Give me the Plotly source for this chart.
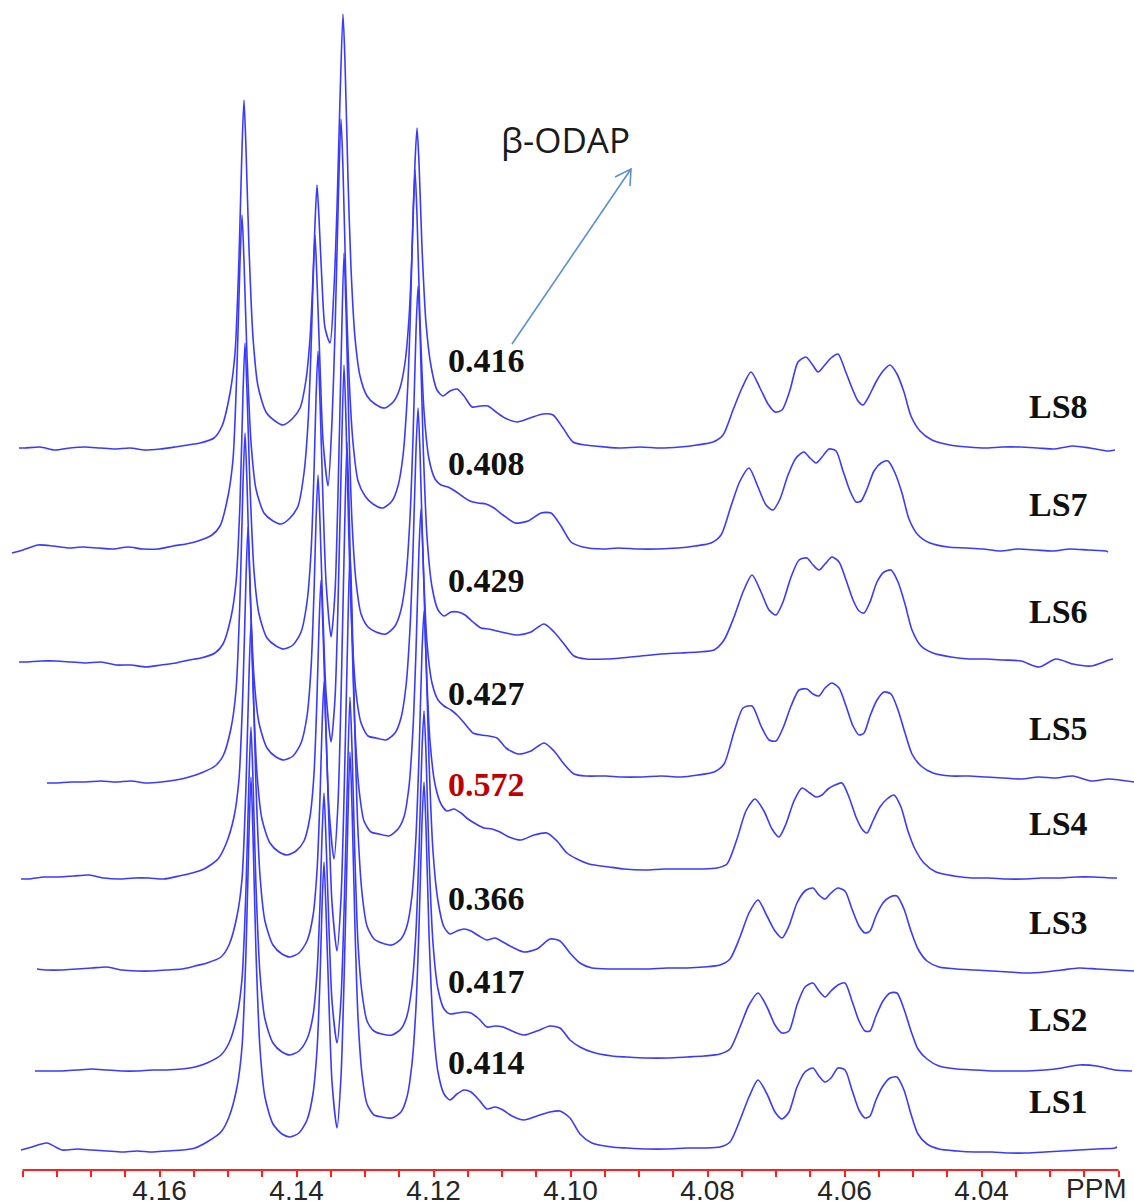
import plotly.graph_objects as go

# ---------------- data ----------------
# chemical-shift sampling points (ppm): left baseline, 4.15-4.11 multiplet, shoulder, 4.08-4.04 multiplet, right baseline
ppm_left = [4.17965, 4.17746, 4.17527, 4.17308, 4.17089, 4.16870, 4.16651, 4.16432, 4.16213, 4.15994, 4.15775, 4.15585]
ppm_peaks = [
    4.15410, 4.15206, 4.15089, 4.14972, 4.14899, 4.14841, 4.14797, 4.14768, 4.14739, 4.14695, 4.14636, 4.14564, 4.14447, 4.14315,
    4.14199, 4.14067,
    4.13950, 4.13863, 4.13804, 4.13761, 4.13731, 4.13702, 4.13673, 4.13629, 4.13585,
    4.13512,
    4.13454, 4.13410, 4.13366, 4.13323, 4.13293, 4.13250, 4.13206, 4.13147, 4.13074, 4.12972,
    4.12856, 4.12710, 4.12578,
    4.12491, 4.12418, 4.12359, 4.12315, 4.12272, 4.12242, 4.12213, 4.12169, 4.12111, 4.12038, 4.11950, 4.11863,
]
ppm_mid = [4.11761, 4.11658, 4.11556, 4.11439, 4.11323, 4.11206, 4.11089, 4.10958, 4.10783, 4.10593, 4.10403, 4.10257,
           4.10111, 4.09965, 4.09790, 4.09498, 4.09279, 4.08987, 4.08695, 4.08403, 4.08155]
ppm_right = [4.07921, 4.07775, 4.07629, 4.07498, 4.07366, 4.07235, 4.07118, 4.07016, 4.06914, 4.06797,
             4.06680, 4.06564, 4.06476, 4.06388, 4.06301, 4.06199, 4.06096, 4.05994, 4.05892, 4.05804,
             4.05731, 4.05644, 4.05542, 4.05439, 4.05337, 4.05235, 4.05133, 4.05031, 4.04899, 4.04724,
             4.04461, 4.04198, 4.03950, 4.03702, 4.03439, 4.03177, 4.02929, 4.02680, 4.02418, 4.02155]

ls_names = ["LS1", "LS2", "LS3", "LS4", "LS5", "LS6", "LS7", "LS8"]
ls_values = ["0.414", "0.417", "0.366", "0.572", "0.427", "0.429", "0.408", "0.416"]

# small per-sample chemical-shift drift (ppm) and spectrum end points
ls_shift_ppm = [-0.00102, -0.00102, -0.00102, -0.00058, -0.00015, -0.00015, 0.00029, 0.0]
ls_start_ppm = [4.18023, 4.17819, 4.17790, 4.18023, 4.17644, 4.18053, 4.18155, 4.18053]
ls_end_ppm = [4.02023, 4.01804, 4.01775, 4.02023, 4.01775, 4.02082, 4.02155, 4.02053]
ls_start_val = [2, 0, 2, 0, -5, 0, -2, 0]
ls_end_val = [5, 0, 0, 1, -4, 3, -1, -2]

# intensities (arbitrary units) per sample, segment by segment
ls1 = ([5, 9, 2, 3, 2, 1, 0, 1, 0, 1, 2, 4]
       + [10, 20, 35, 65, 105, 200, 318, 375, 318, 200, 103, 55, 28, 18,
          15, 19,
          32, 58, 102, 172, 245, 290, 242, 148, 70,
          24,
          75, 170, 295, 400, 345, 225, 135, 78, 48, 37,
          35, 34, 40,
          55, 88, 145, 225, 328, 370, 325, 218, 130, 80, 58, 52]
       + [58, 62, 60, 52, 43, 45, 42, 36, 32, 36, 40, 41, 34, 18, 9, 5, 4, 3, 3, 4, 4]
       + [5, 10, 32, 55, 72, 58, 40, 33, 40, 65, 80, 84, 76, 70, 74, 84, 82, 62, 42, 34,
          36, 52, 66, 74, 75, 62, 38, 18, 8, 3, 1, 0, 0, -1, -1, 0, 1, 2, 3, 4])
ls2 = ([0, 0, 0, 1, 2, 1, 0, 0, 1, 1, 2, 4]
       + [8, 16, 28, 55, 92, 182, 292, 344, 292, 185, 97, 52, 28, 19,
          16, 20,
          32, 55, 98, 166, 235, 278, 232, 142, 70,
          28,
          72, 158, 275, 374, 322, 212, 128, 78, 50, 40,
          37, 36, 42,
          55, 85, 140, 220, 320, 360, 318, 215, 128, 82, 62, 57]
       + [58, 59, 58, 52, 44, 45, 44, 40, 36, 40, 45, 43, 31, 24, 19, 15, 14, 13, 13, 14, 15]
       + [17, 22, 44, 66, 78, 64, 46, 38, 40, 66, 84, 88, 80, 74, 80, 86, 88, 70, 50, 40,
          40, 55, 70, 78, 78, 62, 40, 22, 12, 5, 2, 1, 0, 0, 0, 1, 3, 6, 5, 1])
ls3 = ([2, 1, 1, 2, 3, 4, 1, 0, 0, 1, 2, 5]
       + [8, 14, 26, 55, 92, 185, 295, 348, 295, 185, 95, 50, 26, 17,
          14, 18,
          30, 55, 100, 172, 243, 289, 240, 145, 68,
          20,
          72, 172, 305, 419, 360, 235, 140, 78, 45, 32,
          28, 26, 32,
          45, 75, 135, 215, 318, 360, 315, 210, 120, 70, 44, 37]
       + [40, 42, 40, 35, 31, 33, 29, 24, 19, 22, 32, 30, 18, 8, 3, 2, 2, 2, 3, 3, 4]
       + [6, 12, 34, 58, 71, 55, 40, 33, 45, 68, 80, 83, 76, 72, 78, 83, 80, 62, 45, 38,
          40, 55, 68, 74, 75, 62, 40, 22, 10, 4, 2, 1, 0, -1, -2, -1, 1, 3, 2, 1])
ls4 = ([0, 2, 2, 3, 4, 1, 0, 1, 1, 0, 3, 6]
       + [10, 20, 35, 62, 100, 190, 300, 352, 300, 195, 105, 60, 36, 27,
          24, 28,
          38, 62, 105, 180, 252, 299, 250, 150, 70,
          20,
          75, 180, 320, 437, 375, 245, 150, 90, 58, 47,
          45, 43, 50,
          62, 92, 150, 228, 328, 370, 325, 222, 138, 95, 75, 68]
       + [70, 66, 60, 55, 51, 50, 47, 42, 39, 44, 46, 38, 26, 20, 15, 12, 10, 9, 10, 10, 10]
       + [11, 15, 40, 68, 80, 68, 50, 42, 55, 78, 91, 86, 82, 84, 90, 94, 96, 82, 62, 50,
          46, 58, 72, 80, 84, 72, 48, 30, 16, 7, 3, 1, 1, 0, 0, 1, 1, 2, 2, 1])
ls5 = ([-4, -4, -5, -4, -4, -3, -4, -3, -5, -4, -2, 1]
       + [5, 12, 22, 50, 88, 180, 295, 345, 295, 190, 100, 55, 30, 21,
          18, 22,
          35, 62, 110, 185, 258, 303, 255, 160, 85,
          36,
          80, 175, 305, 413, 355, 235, 145, 85, 55, 42,
          40, 38, 45,
          60, 92, 150, 228, 328, 370, 325, 220, 135, 95, 78, 72]
       + [68, 62, 54, 45, 43, 42, 40, 30, 24, 27, 35, 27, 14, 4, 2, 2, 1, 1, 2, 1, 3]
       + [6, 14, 46, 70, 72, 52, 38, 37, 50, 72, 88, 89, 84, 82, 90, 95, 90, 72, 52, 43,
          45, 62, 78, 86, 84, 68, 45, 24, 12, 5, 2, 2, 1, 0, -1, 1, 0, 2, -3, -1])
ls6 = ([0, 1, 1, 0, -1, 0, -3, -3, -5, -3, -1, 2]
       + [4, 9, 18, 45, 80, 160, 270, 319, 270, 175, 90, 48, 24, 16,
          13, 17,
          30, 60, 110, 190, 265, 311, 260, 160, 80,
          25,
          70, 170, 300, 409, 350, 230, 140, 80, 48, 35,
          30, 28, 36,
          52, 85, 145, 225, 330, 376, 330, 220, 125, 75, 52, 46]
       + [50, 50, 47, 40, 34, 33, 31, 29, 27, 30, 38, 30, 18, 6, 3, 3, 4, 6, 8, 9, 10]
       + [12, 22, 45, 70, 87, 70, 52, 47, 60, 85, 102, 104, 97, 92, 98, 105, 100, 82, 62, 51,
          49, 60, 80, 90, 92, 80, 58, 32, 16, 9, 5, 3, 3, 2, 1, -5, 3, -2, -4, 2])
ls7 = ([1, 6, 5, 3, 4, 3, 2, 4, 2, 2, 5, 7]
       + [10, 16, 25, 55, 92, 185, 290, 336, 290, 195, 108, 62, 38, 30,
          27, 33,
          45, 78, 128, 200, 268, 316, 270, 185, 110,
          65,
          130, 220, 340, 432, 380, 265, 175, 108, 70, 55,
          47, 43, 50,
          65, 95, 150, 225, 335, 381, 335, 230, 140, 92, 72, 66]
       + [64, 60, 55, 50, 48, 47, 43, 36, 28, 30, 38, 38, 25, 9, 4, 2, 3, 2, 2, 3, 5]
       + [8, 16, 45, 70, 83, 64, 46, 41, 52, 76, 93, 99, 93, 88, 94, 102, 100, 80, 60, 49,
          50, 62, 80, 88, 90, 78, 58, 32, 16, 8, 4, 3, 2, 0, 2, 1, 0, 2, 1, 0])
ls8 = ([0, 1, -2, 0, 1, 0, -1, 0, -2, -1, 1, 3]
       + [5, 10, 22, 55, 95, 190, 300, 348, 300, 200, 110, 62, 36, 27,
          23, 29,
          40, 68, 110, 170, 225, 263, 230, 165, 120,
          105,
          160, 240, 350, 434, 385, 270, 180, 110, 72, 52,
          44, 40, 47,
          60, 85, 130, 195, 285, 320, 285, 200, 125, 82, 58, 52]
       + [57, 59, 52, 41, 42, 42, 36, 30, 26, 30, 34, 33, 20, 6, 3, 1, 0, 1, 0, 1, 3]
       + [6, 13, 38, 60, 76, 60, 44, 36, 38, 58, 86, 91, 84, 76, 82, 90, 94, 78, 60, 47,
          43, 52, 66, 77, 83, 74, 56, 32, 17, 8, 3, 1, 0, 1, 1, 0, -1, 2, 0, -3])

major_tick_values = [4.16, 4.14, 4.12, 4.10, 4.08, 4.06, 4.04]
major_tick_labels = ["4.16", "4.14", "4.12", "4.10", "4.08", "4.06", "4.04"]

# ---------------- layout constants ----------------
stack_offsets = [18, 99, 199, 291, 392, 508, 619, 722]
value_label_y = [108, 189, 272, 386, 477, 590, 707, 810]
name_label_y = [69, 151, 248, 347, 442, 559, 666, 764]
highlight = "0.572"

LINE_COLOR = "#3a3aff"
AXIS_RED = "#ff1f1f"
W, H = 1134, 1201
PLOT_BOTTOM = 1170

ppm_grid = ppm_left + ppm_peaks + ppm_mid + ppm_right
spectra = [ls1, ls2, ls3, ls4, ls5, ls6, ls7, ls8]

fig = go.Figure()
for i, vals in enumerate(spectra):
    xs = [ls_start_ppm[i]]
    ys = [stack_offsets[i] + ls_start_val[i]]
    for p, v in zip(ppm_grid, vals):
        x = p + ls_shift_ppm[i]
        if ls_end_ppm[i] < x < ls_start_ppm[i]:
            xs.append(x)
            ys.append(stack_offsets[i] + v)
    xs.append(ls_end_ppm[i])
    ys.append(stack_offsets[i] + ls_end_val[i])
    fig.add_trace(go.Scatter(
        x=xs, y=ys, mode="lines", name=ls_names[i],
        line=dict(color=LINE_COLOR, width=1.6, shape="spline", smoothing=0.7),
        hoverinfo="skip", showlegend=False,
    ))

# ticks every 0.005 ppm, labels on the major ones
tick_vals = [round(4.18 - 0.005 * k, 3) for k in range(33)]
label_map = {round(v, 3): t for v, t in zip(major_tick_values, major_tick_labels)}
tick_text = [label_map.get(v, "") for v in tick_vals]

SERIF = "Liberation Serif, Times New Roman, serif"
annotations = []
for i in range(8):
    col = "#c00000" if ls_values[i] == highlight else "#111111"
    annotations.append(dict(
        text="<b>%s</b>" % ls_values[i], xref="paper", yref="y",
        x=446 / W, y=value_label_y[i], xanchor="left", yanchor="middle",
        showarrow=False, font=dict(family=SERIF, size=34, color=col),
    ))
    annotations.append(dict(
        text="<b>%s</b>" % ls_names[i], xref="paper", yref="y",
        x=1027 / W, y=name_label_y[i], xanchor="left", yanchor="middle",
        showarrow=False, font=dict(family=SERIF, size=34, color="#111111"),
    ))

annotations.append(dict(
    text="β-ODAP", xref="paper", yref="y", x=565 / W, y=PLOT_BOTTOM - 139,
    xanchor="center", yanchor="middle", showarrow=False,
    font=dict(family="Open Sans, Liberation Sans, sans-serif", size=35, color="#1a1a1a"),
))
annotations.append(dict(
    text="PPM", xref="x", yref="paper", x=4.0232, y=0,
    xanchor="center", yanchor="top", yshift=-1, showarrow=False,
    font=dict(family="Liberation Sans, Arial, sans-serif", size=28, color="#262626"),
))


def px(xp, yp):
    return xp / W, (PLOT_BOTTOM - yp) / PLOT_BOTTOM


tx, ty = px(512, 344)
hx, hy = px(631, 169)
a1x, a1y = px(615, 177)
a2x, a2y = px(630, 186)
shapes = [
    dict(type="line", xref="x", yref="paper", x0=4.18, x1=4.02, y0=0, y1=0,
         line=dict(color=AXIS_RED, width=2)),
    dict(type="line", xref="paper", yref="paper", x0=tx, y0=ty, x1=hx, y1=hy,
         line=dict(color="#5b8fd0", width=1.6)),
    dict(type="path", xref="paper", yref="paper",
         path="M %f %f L %f %f L %f %f" % (a1x, a1y, hx, hy, a2x, a2y),
         line=dict(color="#5b8fd0", width=1.6)),
]

fig.update_layout(
    width=W, height=H,
    margin=dict(l=0, r=0, t=0, b=H - PLOT_BOTTOM, autoexpand=False),
    paper_bgcolor="white", plot_bgcolor="white",
    showlegend=False,
    xaxis=dict(
        range=[4.18330, 4.01775], tickmode="array", tickvals=tick_vals, ticktext=tick_text,
        ticks="outside", ticklen=6, tickwidth=1.5, tickcolor=AXIS_RED,
        showgrid=False, zeroline=False, showline=False, automargin=False,
        tickfont=dict(family="Liberation Sans, Arial, sans-serif", size=28, color="#262626"),
        ticklabelstandoff=-11, fixedrange=True,
    ),
    yaxis=dict(range=[0, PLOT_BOTTOM], visible=False, fixedrange=True, automargin=False),
    annotations=annotations,
    shapes=shapes,
)

fig.write_html("out.html", post_script="document.body.style.margin='0';",
               config={"displayModeBar": False})
